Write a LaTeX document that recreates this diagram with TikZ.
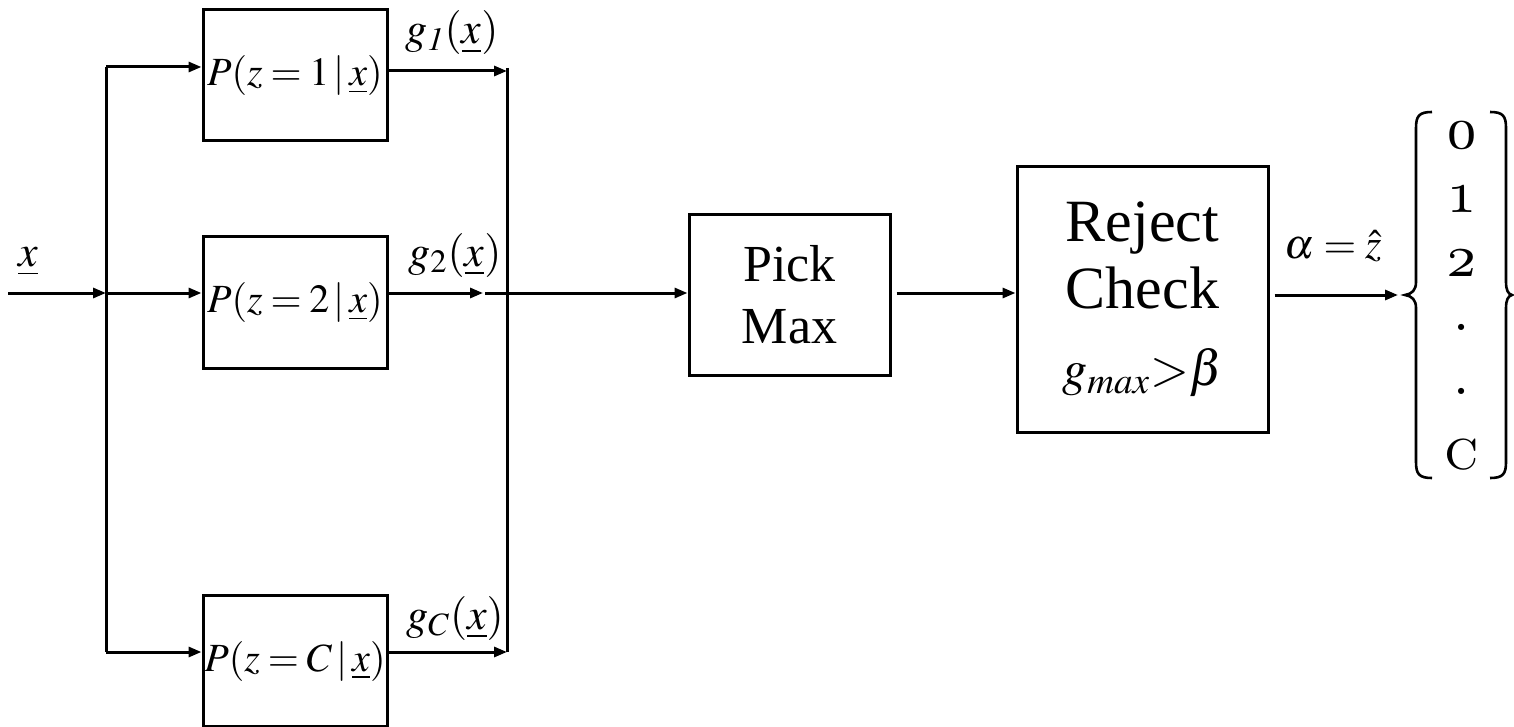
\documentclass[tikz,border=0pt]{standalone}
\usepackage{mathptmx}
\usepackage[no-math]{fontspec}
\setmainfont{Liberation Serif}
\newfontfamily\osf{lmroman10-regular.otf}[Numbers=OldStyle]
\newfontfamily\lmcaps{lmromancaps10-regular.otf}
\usetikzlibrary{arrows.meta,matrix}
\newcommand\pexpr[1]{$\thickmuskip=3.5mu\relax P(z=#1\,|\,\underline{x})$}
\tikzset{
  blk/.style={draw, line width=1.5pt, inner sep=0pt, align=center},
  pbox/.style={blk, minimum width=92pt, minimum height=65.5pt, font=\fontsize{20}{24}\selectfont},
  arr/.style={line width=1.5pt, -{Triangle[length=6.5pt,width=5pt]}},
  ln/.style={line width=1.5pt},
  brc/.style={line width=1.3pt},
  lbl/.style={font=\fontsize{22}{26}\selectfont, inner sep=0pt},
  elem/.style={minimum width=30pt, minimum height=32pt, inner sep=0pt, font=\fontsize{29}{32}\selectfont\osf},
}
\begin{document}
\begin{tikzpicture}[x=0.5pt,y=-0.5pt]
\useasboundingbox (0,0) rectangle (1514,727);
% boxes
\node[pbox] (p1) at (295,75.5) {\pexpr{1}};
\node[pbox] (p2) at (295,302.5) {\pexpr{2}};
\node[pbox] (p3) at (295,661) {\pexpr{C}};
\node[blk, minimum width=100.5pt, minimum height=80pt, font=\fontsize{26}{31}\selectfont] (pick) at (789.5,295) {Pick\\Max};
\node[blk, minimum width=125.5pt, minimum height=132.5pt, font=\fontsize{30}{33.5}\selectfont] (rc) at (1142.5,299.5) {Reject\\Check\\[5pt]{\fontsize{25}{30}\selectfont$g_{\mathit{max}}\mathord{>}\beta$}};
% labels
\node[lbl] (xl) at (28,262) {$\underline{x}$};
\node[lbl] (g1) at (452,33) {$g_{\mathit{1}}(\underline{x})$};
\node[lbl] (g2) at (455,255) {$g_2(\underline{x})$};
\node[lbl] (gC) at (455,618) {$g_C(\underline{x})$};
\node[lbl, font=\fontsize{21}{24}\selectfont] (al) at (1333,246) {$\alpha=\hat{z}$};
% output set
\matrix (vec) [matrix of nodes, inner sep=0pt, row sep=0pt, nodes={elem}] at (1462,295) {
  0\\ 1\\ 2\\ .\\ .\\ |[font=\fontsize{29}{32}\selectfont\lmcaps]| c\\
};
% braces
\draw[brc] (1432,112) .. controls (1419,112) and (1416,116) .. (1416,128)
  -- (1416,282) .. controls (1416,290) and (1412,294) .. (1405,295)
  .. controls (1412,296) and (1416,300) .. (1416,308)
  -- (1416,462) .. controls (1416,474) and (1419,478) .. (1432,478);
\draw[brc] (1490,112) .. controls (1503,112) and (1506,116) .. (1506,128)
  -- (1506,282) .. controls (1506,290) and (1508,294) .. (1512,295)
  .. controls (1508,296) and (1506,300) .. (1506,308)
  -- (1506,462) .. controls (1506,474) and (1503,478) .. (1490,478);
% coordinates
\coordinate (in) at (8,293);
\coordinate (tl) at (106,293);
\coordinate (tt) at (106,67);
\coordinate (tb) at (106,652);
\coordinate (rt) at (507,68);
\coordinate (r1) at (507,71);
\coordinate (r3) at (507,652);
\coordinate (r2a) at (483,293);
\coordinate (r2b) at (485,293);
\coordinate (oe) at (1398,295);
% input side
\draw[arr] (in) -- (tl);
\draw[ln] (tt) -- (tb);
\draw[arr] (tt) -- (tt -| p1.west);
\draw[arr] (tl) -- (tl -| p2.west);
\draw[arr] (tb) -- (tb -| p3.west);
% output side
\draw[arr] (p1.east |- r1) -- (r1);
\draw[arr] (p2.east |- r2a) -- (r2a);
\draw[arr] (p3.east |- r3) -- (r3);
\draw[ln] (rt) -- (r3);
\draw[arr] (r2b) -- (pick.west |- r2b);
\draw[arr] ([xshift=2.5pt]pick.east |- r2b) -- (rc.west |- r2b);
\draw[arr] ([xshift=2.5pt]rc.east |- oe) -- (oe);
\end{tikzpicture}
\end{document}
